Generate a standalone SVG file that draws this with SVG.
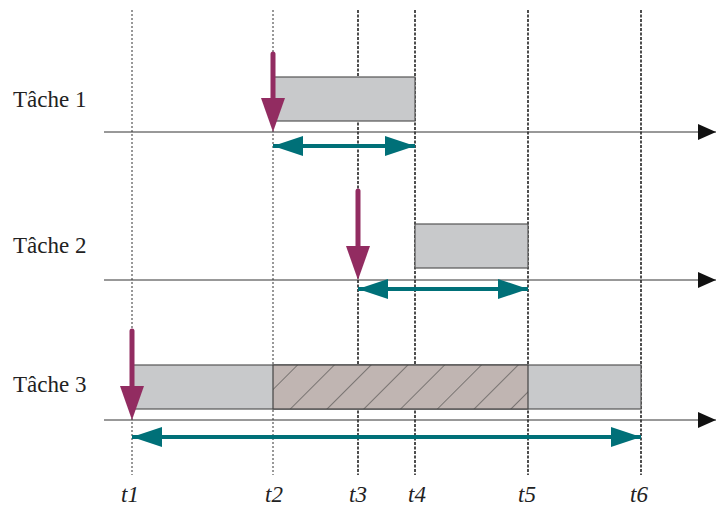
<svg xmlns="http://www.w3.org/2000/svg" width="716" height="509" viewBox="0 0 716 509">
<style>
.lbl{font-family:"Liberation Serif","Times New Roman",serif;font-size:23px;fill:#222}
.t{font-family:"Liberation Serif","Times New Roman",serif;font-size:23px;font-style:italic;fill:#222}
.vdot{stroke:#333;stroke-width:1;stroke-dasharray:2 2;fill:none}
.vdash{stroke:#222;stroke-width:1.6;stroke-dasharray:3 1.5;fill:none}
.axis{stroke:#333;stroke-width:1;fill:none}
.box{fill:#c8c9cb;stroke:#555;stroke-width:1.2}
.hatch{fill:url(#hatch);stroke:#444;stroke-width:1.2}
.purple{stroke:#922c61;stroke-width:5;stroke-linecap:round;fill:none}
.teal{stroke:#007078;stroke-width:4;fill:none}
</style>
<defs>
<pattern id="hatch" patternUnits="userSpaceOnUse" width="26" height="26" patternTransform="rotate(45)">
<rect width="26" height="26" fill="#c0b5b2"/>
<line x1="0" y1="0" x2="0" y2="26" stroke="#333" stroke-width="1"/>
</pattern>
<marker id="ax" markerUnits="userSpaceOnUse" markerWidth="20" markerHeight="20" refX="18" refY="8" orient="auto">
<path d="M0,0 L18,8 L0,16 Z" fill="#111"/>
</marker>
<marker id="pa" markerUnits="userSpaceOnUse" markerWidth="36" markerHeight="26" refX="1" refY="12" orient="auto">
<path d="M0,0 L34,12 L0,24 Z" fill="#922c61"/>
</marker>
<marker id="te" markerUnits="userSpaceOnUse" markerWidth="32" markerHeight="22" refX="30" refY="10" orient="auto">
<path d="M0,0 L30,10 L0,20 Z" fill="#007078"/>
</marker>
<marker id="ts" markerUnits="userSpaceOnUse" markerWidth="32" markerHeight="22" refX="0" refY="10" orient="auto">
<path d="M30,0 L0,10 L30,20 Z" fill="#007078"/>
</marker>
</defs>

<g id="grid">
<line class="vdot" x1="132" y1="10" x2="132" y2="475"/>
<line class="vdot" x1="273" y1="10" x2="273" y2="475"/>
<line class="vdash" x1="358" y1="10" x2="358" y2="475"/>
<line class="vdash" x1="415" y1="10" x2="415" y2="475"/>
<line class="vdash" x1="528" y1="10" x2="528" y2="475"/>
<line class="vdash" x1="641" y1="10" x2="641" y2="475"/>
</g>

<g id="task1">
<text class="lbl" x="13" y="107">Tâche 1</text>
<rect class="box" x="273" y="77" width="142" height="44"/>
<line class="axis" x1="104" y1="132" x2="716" y2="132" marker-end="url(#ax)"/>
</g>
<g id="task2">
<text class="lbl" x="13" y="253">Tâche 2</text>
<rect class="box" x="415" y="224" width="113" height="44"/>
<line class="axis" x1="104" y1="280" x2="716" y2="280" marker-end="url(#ax)"/>
</g>
<g id="task3">
<text class="lbl" x="13" y="392">Tâche 3</text>
<rect class="box" x="132" y="365" width="509" height="44"/>
<rect class="hatch" x="273" y="365" width="255" height="44"/>
<line class="axis" x1="104" y1="420" x2="716" y2="420" marker-end="url(#ax)"/>
</g>

<g id="connectors">
<line class="purple" x1="273" y1="54" x2="273" y2="99" marker-end="url(#pa)"/>
<line class="purple" x1="358" y1="191" x2="358" y2="247" marker-end="url(#pa)"/>
<line class="purple" x1="132" y1="331" x2="132" y2="387" marker-end="url(#pa)"/>
<line class="teal" x1="273" y1="146" x2="415" y2="146" marker-start="url(#ts)" marker-end="url(#te)"/>
<line class="teal" x1="358" y1="289" x2="528" y2="289" marker-start="url(#ts)" marker-end="url(#te)"/>
<line class="teal" x1="132" y1="437" x2="641" y2="437" marker-start="url(#ts)" marker-end="url(#te)"/>
</g>

<g id="labels">
<text class="t" x="121" y="502">t1</text>
<text class="t" x="265" y="502">t2</text>
<text class="t" x="349" y="502">t3</text>
<text class="t" x="408" y="502">t4</text>
<text class="t" x="518" y="502">t5</text>
<text class="t" x="630" y="502">t6</text>
</g>
</svg>
